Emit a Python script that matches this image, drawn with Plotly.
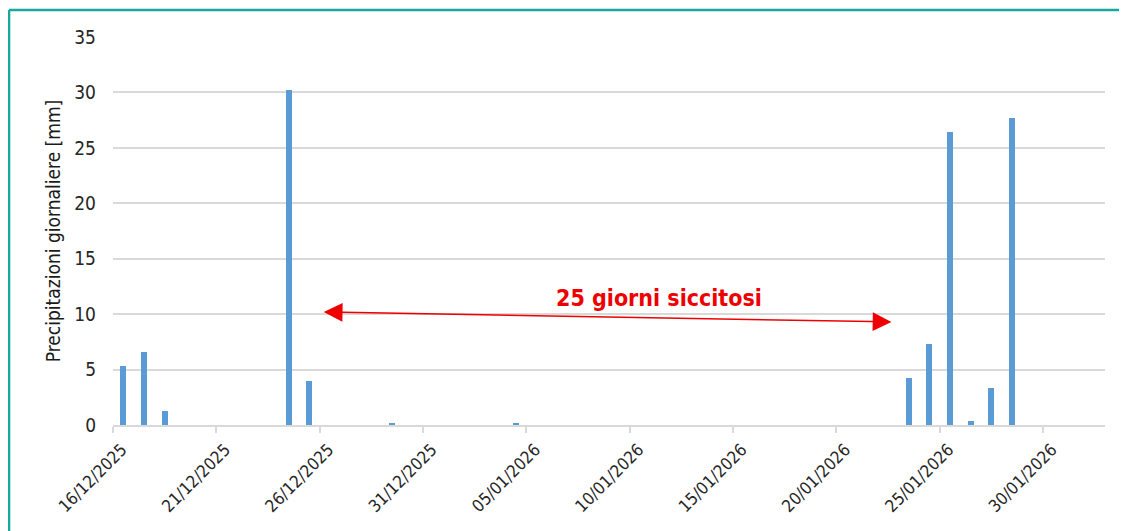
import pandas as pd
import plotly.graph_objects as go

# ---- data ----
start_date = "2025-12-16"
n_days = 48
precip_mm = [
    5.3, 6.6, 1.3, 0, 0, 0, 0, 0, 30.2, 3.95,      # 16/12 - 25/12
    0, 0, 0, 0.2, 0, 0, 0, 0, 0, 0.2,              # 26/12 - 04/01
    0, 0, 0, 0, 0, 0, 0, 0, 0, 0,                  # 05/01 - 14/01
    0, 0, 0, 0, 0, 0, 0, 0, 4.2, 7.3,              # 15/01 - 24/01
    26.4, 0.4, 3.3, 27.7, 0, 0, 0, 0,              # 25/01 - 01/02
]
tick_dates = ["2025-12-16", "2025-12-21", "2025-12-26", "2025-12-31", "2026-01-05",
              "2026-01-10", "2026-01-15", "2026-01-20", "2026-01-25", "2026-01-30"]
y_title = "Precipitazioni giornaliere [mm]"
note_text = "25 giorni siccitosi"
arrow_start = ("2025-12-26 03:00", 10.2)
arrow_end = ("2026-01-22 16:00", 9.3)
note_pos = ("2026-01-11 10:00", 11.5)

days = pd.date_range(start_date, periods=n_days, freq="D")
bar_x = days + pd.Timedelta(hours=12)

FONT = "DejaVu Sans Condensed, Liberation Sans Narrow, sans-serif"
GRID = "#d9d9d9"
TEAL = "#1aa89c"
RED = "#ee0000"
TXT = "#262626"

fig = go.Figure()
fig.add_trace(go.Bar(
    x=bar_x, y=precip_mm,
    width=0.3 * 86400000,
    marker=dict(color="#5b9bd5", line=dict(width=0)),
    showlegend=False,
))

fig.update_layout(
    width=1119, height=523,
    margin=dict(l=105, r=22, t=29, b=106),
    paper_bgcolor="white", plot_bgcolor="white",
    font=dict(family=FONT, size=18, color=TXT),
    xaxis=dict(
        type="date",
        range=[days[0], days[0] + pd.Timedelta(days=n_days)],
        tickvals=pd.to_datetime(tick_dates),
        ticktext=[pd.Timestamp(d).strftime("%d/%m/%Y") for d in tick_dates],
        tickangle=-45,
        ticks="outside", ticklen=6, tickwidth=2, tickcolor=GRID,
        showline=True, linecolor=GRID, linewidth=2,
        showgrid=False, zeroline=False,
        ticklabelshift=9,
        tickfont=dict(family=FONT, size=17, color=TXT),
    ),
    yaxis=dict(
        range=[0, 35],
        tickvals=[0, 5, 10, 15, 20, 25, 30, 35],
        showgrid=True, gridcolor=GRID, gridwidth=2,
        zeroline=False, showline=False, ticks="",
        ticklabelstandoff=16,
        tickfont=dict(family=FONT, size=19, color=TXT),
        title=dict(text=y_title, font=dict(family=FONT, size=19, color="#1a1a1a"), standoff=8),
    ),
    bargap=0,
)

# arrow (double-headed)
fig.add_annotation(
    x=arrow_end[0], y=arrow_end[1], ax=arrow_start[0], ay=arrow_start[1],
    xref="x", yref="y", axref="x", ayref="y",
    text="", showarrow=True, arrowhead=2, startarrowhead=2, arrowside="end+start",
    arrowsize=2.5, startarrowsize=2.5, arrowwidth=1.5, arrowcolor=RED,
    standoff=0, startstandoff=0,
)
fig.add_annotation(
    x=note_pos[0], y=note_pos[1], xref="x", yref="y",
    text="<b>" + note_text + "</b>", showarrow=False,
    font=dict(family=FONT, size=23, color=RED),
)

# teal frame (top and left edges visible)
fig.add_shape(type="line", xref="paper", yref="paper", x0=-0.1048, x1=1.05, y0=1.0695, y1=1.0695,
              line=dict(color=TEAL, width=2.5))
fig.add_shape(type="line", xref="paper", yref="paper", x0=-0.1048, x1=-0.1048, y0=1.0695, y1=-0.4,
              line=dict(color=TEAL, width=2.5))

fig.write_html("out.html")
